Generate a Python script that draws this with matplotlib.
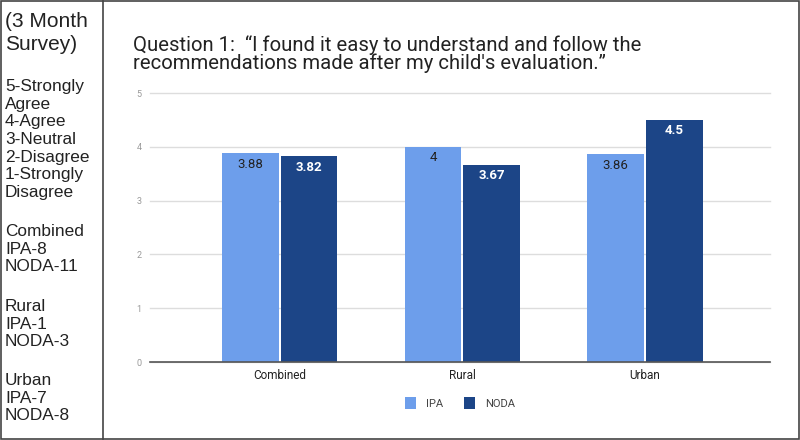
import numpy as np
import matplotlib
matplotlib.use("Agg")
import matplotlib.pyplot as plt
from matplotlib.patches import Rectangle
from matplotlib.lines import Line2D

categories = ["Combined", "Rural", "Urban"]
ipa_scores = [3.88, 4, 3.86]
noda_scores = [3.82, 3.67, 4.5]
ipa_labels = ["3.88", "4", "3.86"]
noda_labels = ["3.82", "3.67", "4.5"]
yticks = [0, 1, 2, 3, 4, 5]

title = "Question 1:  \u201cI found it easy to understand and follow the\nrecommendations made after my child's evaluation.\u201d"
side_head = "(3 Month\nSurvey)"
side_blocks = [
    "5-Strongly\nAgree\n4-Agree\n3-Neutral\n2-Disagree\n1-Strongly\nDisagree",
    "Combined\nIPA-8\nNODA-11",
    "Rural\nIPA-1\nNODA-3",
    "Urban\nIPA-7\nNODA-8",
]

ipa_color = "#6d9eeb"
noda_color = "#1c4587"

fig = plt.figure(figsize=(8, 4.4), dpi=100)
W, H = 800, 440

def fx(px):
    return px / W

def fy(py):
    return 1 - py / H

# frame around the whole slide and the divider for the notes column
fig.add_artist(Rectangle((fx(1), fy(439)), fx(798), 438 / H, fill=False,
                         edgecolor="#444444", lw=1.2, transform=fig.transFigure))
fig.add_artist(Line2D([fx(103), fx(103)], [fy(1), fy(439)], color="#444444",
                      lw=1.2, transform=fig.transFigure))

# notes column
fig.text(fx(5), fy(12), side_head, family="Liberation Sans", fontsize=15,
         va="top", ha="left", color="#222222", linespacing=1.3)
block_tops = [79, 224, 299, 373]
for top, block in zip(block_tops, side_blocks):
    fig.text(fx(5), fy(top), block, family="Liberation Sans", fontsize=12.4,
             va="top", ha="left", color="#222222", linespacing=1.22)

# chart title
fig.text(fx(133), fy(35), title, family="Roboto", fontsize=14.6, va="top",
         ha="left", color="#222222", linespacing=0.9)

ax = fig.add_axes([fx(150), fy(362), fx(620), (362 - 93) / H])
x = np.arange(len(categories))
w = 0.31
gap = 0.006
b1 = ax.bar(x - w / 2 - gap, ipa_scores, w, color=ipa_color, label="IPA", zorder=3)
b2 = ax.bar(x + w / 2 + gap, noda_scores, w, color=noda_color, label="NODA", zorder=3)

for rect, lab in zip(b1, ipa_labels):
    ax.text(rect.get_x() + rect.get_width() / 2, rect.get_height() - 0.2, lab,
            ha="center", va="center", fontsize=9.5, color="#222222",
            family="Roboto", zorder=4)
for rect, lab in zip(b2, noda_labels):
    ax.text(rect.get_x() + rect.get_width() / 2, rect.get_height() - 0.2, lab,
            ha="center", va="center", fontsize=9.5, color="white",
            family="Roboto", fontweight="bold", zorder=4)

ax.set_xlim(-0.71, 2.685)
ax.set_ylim(0, 5)
ax.set_yticks(yticks)
ax.set_yticklabels([str(t) for t in yticks], family="Roboto", fontsize=6.5,
                   color="#999999")
ax.set_xticks(x)
ax.set_xticklabels(categories, family="Roboto", fontsize=8.5, color="#222222")
ax.tick_params(axis="both", length=0, pad=5)
ax.tick_params(axis="y", pad=6)
ax.grid(axis="y", color="#dddddd", lw=1, zorder=0)
ax.set_axisbelow(True)
for s in ["top", "right", "left"]:
    ax.spines[s].set_visible(False)
ax.spines["bottom"].set_color("#555555")
ax.spines["bottom"].set_linewidth(1.2)
ax.spines["bottom"].set_zorder(5)
for gl in ax.get_ygridlines():
    gl.set_clip_on(False)

fig.legend(handles=[b1, b2], labels=["IPA", "NODA"], loc="center",
           bbox_to_anchor=(fx(460), fy(403)), ncol=2, frameon=False,
           prop={"family": "Roboto", "size": 8}, labelcolor="#444444",
           handlelength=1.0, handleheight=1.3, handletextpad=0.9,
           columnspacing=1.8)

fig.savefig("out.png", dpi=100)
